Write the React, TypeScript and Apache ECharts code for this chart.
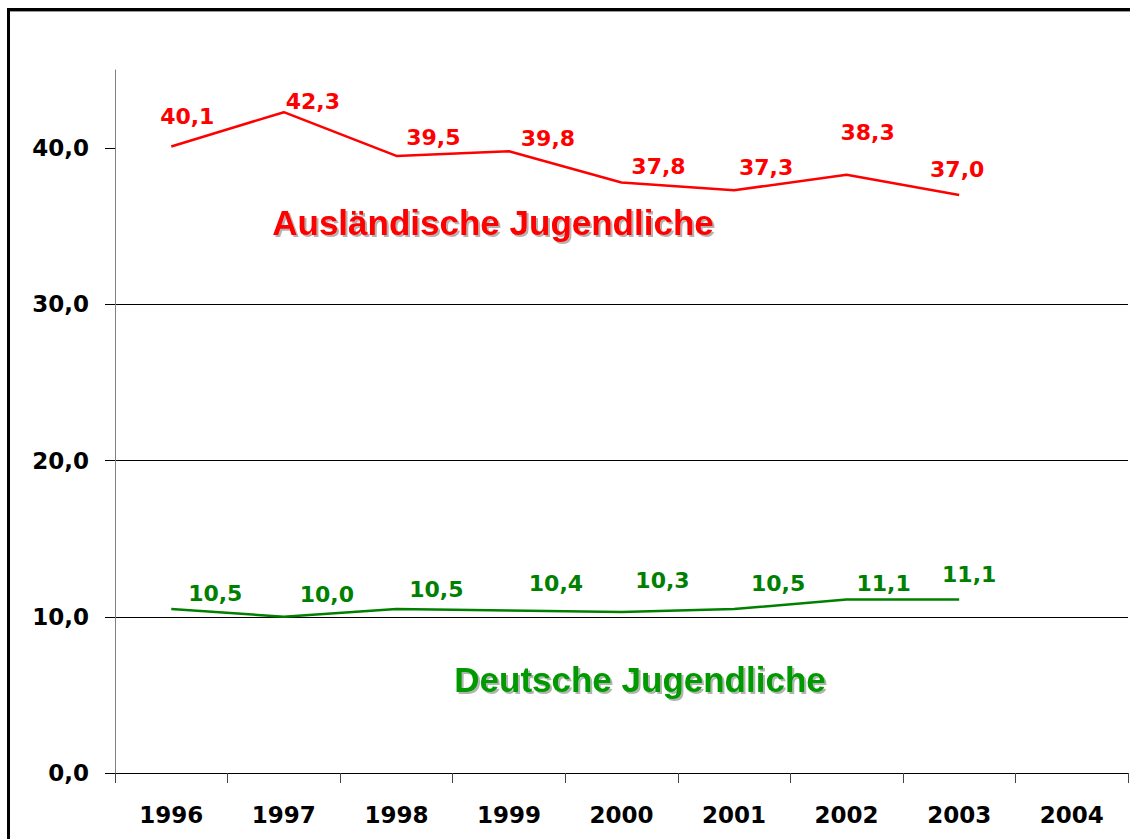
import React, { useEffect, useRef } from "react";
import * as echarts from "echarts";

const years = ["1996", "1997", "1998", "1999", "2000", "2001", "2002", "2003", "2004"];
const auslaendische = [40.1, 42.3, 39.5, 39.8, 37.8, 37.3, 38.3, 37.0];
const deutsche = [10.5, 10.0, 10.5, 10.4, 10.3, 10.5, 11.1, 11.1];
const yTicks = [0, 10, 20, 30, 40];

// label offsets (styling only): [dx, dy] from each point
const redLabelOffsets = [[16, -30], [29, -11], [37, -18], [39, -13], [37, -16], [32, -23], [21, -42], [-2, -25]];
const greenLabelOffsets = [[44, -15], [43, -22], [40, -19], [47, -27], [41, -32], [44, -25], [37, -16], [10, -25]];

const fmt = (v: number) => v.toFixed(1).replace(".", ",");
const NUM_FONT = "'DejaVu Sans', sans-serif";
const TITLE_FONT = "'Liberation Sans', Arial, sans-serif";

export default function App() {
  const ref = useRef<HTMLDivElement>(null);
  useEffect(() => {
    if (!ref.current) return;
    const chart = echarts.init(ref.current, undefined, { renderer: "svg" });
    const mkData = (vals: number[], offs: number[][]) =>
      vals.map((v, i) => ({ value: v, label: { offset: offs[i] } }));
    const labelStyle = (color: string) => ({
      show: true,
      position: "inside",
      color,
      fontFamily: NUM_FONT,
      fontWeight: "bold",
      fontSize: 22,
      align: "center",
      verticalAlign: "middle",
      formatter: (p: any) => fmt(p.value),
    });
    const titleStyle = (text: string, fill: string) => ({
      text,
      fill,
      font: "bold 35px " + TITLE_FONT,
      textAlign: "center",
      textVerticalAlign: "middle",
      textShadowColor: "rgba(0,0,0,0.3)",
      textShadowOffsetX: 2,
      textShadowOffsetY: 2,
      textShadowBlur: 1,
    });
    chart.setOption({
      animation: false,
      backgroundColor: "#ffffff",
      grid: { left: 115, right: 2, top: 70, bottom: 66 },
      xAxis: {
        type: "category",
        data: years,
        boundaryGap: true,
        axisLine: { lineStyle: { color: "#000", width: 1 } },
        axisTick: { show: true, interval: 0, length: 10, lineStyle: { color: "#444" } },
        axisLabel: {
          interval: 0,
          margin: 30,
          color: "#000",
          fontFamily: NUM_FONT,
          fontWeight: "bold",
          fontSize: 23,
        },
        splitLine: { show: false },
      },
      yAxis: {
        type: "value",
        min: 0,
        max: 45,
        interval: 10,
        axisLine: { show: true, lineStyle: { color: "#808080", width: 1 } },
        axisTick: { show: true, length: 10, customValues: yTicks, lineStyle: { color: "#000" } },
        axisLabel: {
          margin: 26,
          color: "#000",
          fontFamily: NUM_FONT,
          fontWeight: "bold",
          fontSize: 23,
          formatter: (v: number) => (yTicks.indexOf(v) >= 0 ? fmt(v) : ""),
        },
        splitLine: {
          show: true,
          showMinLine: false,
          showMaxLine: false,
          lineStyle: { color: "#000", width: 1 },
        },
      },
      series: [
        {
          name: "Ausländische Jugendliche",
          type: "line",
          data: mkData(auslaendische, redLabelOffsets),
          symbol: "circle",
          symbolSize: 0.1,
          showSymbol: true,
          itemStyle: { color: "rgba(0,0,0,0)" },
          lineStyle: { color: "#ff0000", width: 2.5 },
          label: labelStyle("#ff0000"),
        },
        {
          name: "Deutsche Jugendliche",
          type: "line",
          data: mkData(deutsche, greenLabelOffsets),
          symbol: "circle",
          symbolSize: 0.1,
          showSymbol: true,
          itemStyle: { color: "rgba(0,0,0,0)" },
          lineStyle: { color: "#008000", width: 2.5 },
          label: labelStyle("#008000"),
        },
      ],
      graphic: [
        {
          type: "rect",
          silent: true,
          shape: { x: 8.5, y: 9.5, width: 1300, height: 1000 },
          style: { fill: "none", stroke: "#000", lineWidth: 3 },
        },
        {
          type: "line",
          silent: true,
          shape: { x1: 10, y1: 11.5, x2: 1130, y2: 11.5 },
          style: { stroke: "#999", lineWidth: 1 },
        },
        {
          type: "text",
          silent: true,
          x: 493,
          y: 222,
          style: titleStyle("Ausländische Jugendliche", "#ff0000"),
        },
        {
          type: "text",
          silent: true,
          x: 640,
          y: 679,
          style: titleStyle("Deutsche Jugendliche", "#009900"),
        },
      ],
    });
    return () => chart.dispose();
  }, []);
  return (
    <div
      ref={ref}
      style={{ position: "absolute", left: 0, top: 0, width: 1130, height: 839, background: "#fff" }}
    />
  );
}
